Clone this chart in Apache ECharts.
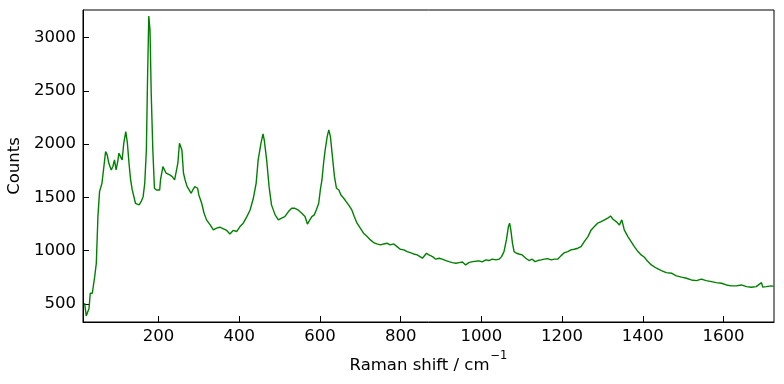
<!DOCTYPE html>
<html>
<head>
<meta charset="utf-8">
<script src="https://cdn.jsdelivr.net/npm/echarts@6/dist/echarts.min.js"></script>
<style>html,body{margin:0;padding:0;background:#fff}#c{width:784px;height:384px}</style>
</head>
<body>
<div id="c"></div>
<script>
var ramanShift = [17,21,28,31,36,42,46,50,54,60,63,69,73,77,83,87,91,95,99,102,106,110,114,119,123,127,131,135,138,143,147,152,157,162,166,170,173,176,179,182,186,190,195,199,203,205,211,215,219,223,228,234,240,244,248,252,255,258,262,266,271,276,281,285,290,297,300,307,313,319,328,336,344,352,361,369,377,385,394,402,410,419,427,435,442,447,454,459,462,468,474,480,489,497,505,513,522,530,538,546,555,563,569,575,580,586,591,597,601,605,609,613,618,622,626,631,636,641,647,652,659,665,671,679,685,692,700,708,717,725,733,741,750,758,766,774,783,791,799,808,816,824,832,841,854,864,870,879,887,895,903,912,920,928,937,945,953,961,969,978,986,994,1002,1011,1019,1027,1036,1044,1050,1056,1062,1067,1070,1073,1077,1081,1087,1093,1101,1110,1118,1126,1133,1140,1148,1156,1164,1173,1181,1189,1197,1206,1214,1222,1230,1239,1247,1255,1264,1272,1280,1288,1297,1305,1313,1320,1326,1334,1342,1348,1354,1363,1371,1379,1388,1396,1404,1409,1421,1434,1446,1458,1471,1483,1496,1508,1520,1533,1545,1557,1570,1582,1595,1607,1619,1632,1644,1657,1669,1681,1694,1697,1706,1718,1724];
var counts = [507,387,460,600,600,756,882,1320,1554,1633,1650,1930,1900,1820,1758,1790,1852,1758,1837,1915,1883,1852,2009,2118,2009,1821,1664,1570,1555,1445,1460,1430,1460,1507,1633,1946,2634,3204,3072,2478,1946,1586,1570,1580,1570,1664,1789,1789,1727,1740,1711,1695,1664,1664,1821,2009,2025,1946,1727,1664,1601,1570,1539,1570,1601,1586,1523,1445,1351,1289,1242,1195,1211,1220,1205,1190,1157,1190,1180,1226,1258,1320,1382,1492,1633,1852,2009,2096,2040,1852,1601,1430,1336,1289,1305,1320,1367,1398,1398,1382,1351,1320,1250,1289,1320,1336,1382,1445,1570,1664,1821,1946,2071,2134,2071,1883,1695,1586,1570,1523,1492,1461,1430,1382,1320,1258,1211,1164,1132,1101,1076,1063,1054,1063,1070,1054,1063,1038,1013,1007,991,982,969,960,929,976,960,944,920,929,920,907,897,888,882,888,894,866,888,897,900,904,894,913,907,920,913,920,944,991,1101,1226,1258,1195,1070,991,976,969,960,929,907,920,897,907,913,920,925,913,920,920,951,982,991,1007,1013,1023,1038,1085,1132,1195,1226,1258,1273,1289,1305,1326,1295,1273,1242,1289,1195,1132,1085,1038,991,960,938,913,866,835,813,794,788,763,751,741,725,719,732,719,709,700,694,678,669,669,678,662,657,662,700,657,662,669,665];
var xTicks = [200,400,600,800,1000,1200,1400,1600];
var yTicks = [500,1000,1500,2000,2500,3000];

var pts = ramanShift.map(function(x,i){return [x,counts[i]];});
var font = 'DejaVu Sans';
var fs = 16.5;
var plain = function(v){return String(v);};
var chart = echarts.init(document.getElementById('c'), null, {renderer:'canvas'});
chart.setOption({
  animation:false,
  backgroundColor:'#fff',
  grid:{left:83,right:10,top:10,bottom:62,containLabel:false,outerBoundsMode:'none',show:true,borderColor:'#000',borderWidth:1,backgroundColor:'transparent'},
  xAxis:{
    type:'value',min:13,max:1725,
    name:'{a|Raman shift / cm}{s|−1}',nameLocation:'middle',nameGap:27,
    nameTextStyle:{rich:{a:{fontFamily:font,fontSize:fs,color:'#000',lineHeight:24,verticalAlign:'bottom'},s:{fontFamily:font,fontSize:11.5,color:'#000',lineHeight:24,verticalAlign:'top',padding:[0,0,0,1]}}},
    axisLine:{show:true,onZero:false,lineStyle:{color:'#000',width:1}},
    axisTick:{show:true,inside:true,length:6,customValues:xTicks,lineStyle:{color:'#000'}},
    axisLabel:{customValues:xTicks,formatter:plain,color:'#000',fontFamily:font,fontSize:fs,margin:6},
    splitLine:{show:false}
  },
  yAxis:{
    type:'value',min:330,max:3260,
    name:'Counts',nameLocation:'middle',nameGap:53,nameRotate:90,
    nameTextStyle:{fontFamily:font,fontSize:fs,color:'#000'},
    axisLine:{show:true,onZero:false,lineStyle:{color:'#000',width:1}},
    axisTick:{show:true,inside:true,length:6,customValues:yTicks,lineStyle:{color:'#000'}},
    axisLabel:{customValues:yTicks,formatter:plain,color:'#000',fontFamily:font,fontSize:fs,margin:7},
    splitLine:{show:false}
  },
  series:[{type:'line',data:pts,showSymbol:false,symbol:'none',lineStyle:{color:'#008000',width:1.4},itemStyle:{color:'#008000'}}]
});
</script>
</body>
</html>
